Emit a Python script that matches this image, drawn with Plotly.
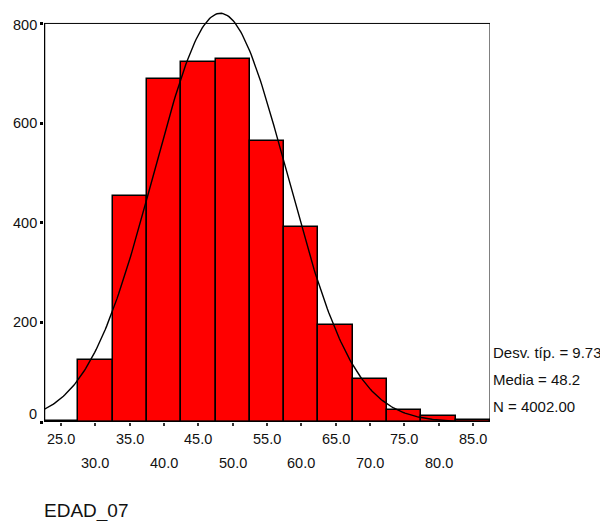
import numpy as np
import plotly.graph_objects as go

# EDAD_07 histogram (bin width 5), SPSS style
bin_centers = [25, 30, 35, 40, 45, 50, 55, 60, 65, 70, 75, 80, 85]
counts = [2, 125, 453, 689, 723, 729, 565, 392, 194, 86, 25, 13, 5]
bin_width = 5

x_tick_vals = [25, 30, 35, 40, 45, 50, 55, 60, 65, 70, 75, 80, 85]
x_tick_text = ["25.0", "30.0", "35.0", "40.0", "45.0", "50.0", "55.0",
               "60.0", "65.0", "70.0", "75.0", "80.0", "85.0"]
y_tick_vals = [0, 200, 400, 600, 800]
y_tick_text = ["0", "200", "400", "600", "800"]

std_dev = 9.73
mean = 48.2
n_total = 4002
stats_lines = ["Desv. típ. = 9.73", "Media = 48.2", "N = 4002.00"]
var_name = "EDAD_07"

FONT = "Liberation Sans, Arial, sans-serif"
x_lo, x_hi = 22.5, 87.5

# normal curve overlay from the reported statistics
xs = np.linspace(x_lo, x_hi, 300)
ys = n_total * bin_width / (std_dev * np.sqrt(2 * np.pi)) * np.exp(-0.5 * ((xs - mean) / std_dev) ** 2)

fig = go.Figure()
fig.add_trace(go.Bar(
    x=bin_centers, y=counts, width=bin_width,
    marker=dict(color="#ff0000", line=dict(color="black", width=1.5)),
))
fig.add_trace(go.Scatter(x=xs, y=ys, mode="lines",
                         line=dict(color="black", width=1.4)))

# frame: thin top/right, heavier left/bottom
fig.add_shape(type="rect", x0=x_lo, x1=x_hi, y0=0, y1=800,
              line=dict(color="black", width=1), layer="above")
fig.add_shape(type="line", x0=x_lo, x1=x_lo, y0=0, y1=800,
              line=dict(color="black", width=2.5), layer="above")
fig.add_shape(type="line", x0=x_lo, x1=x_hi, y0=0, y1=0,
              line=dict(color="black", width=2.5), layer="above")

tick_font = dict(family=FONT, size=14.5, color="#111")
for i, (v, t) in enumerate(zip(x_tick_vals, x_tick_text)):
    fig.add_annotation(x=v, y=0, yref="paper", text=t, showarrow=False,
                       xanchor="center", yanchor="middle",
                       yshift=-17 if i % 2 == 0 else -41, font=tick_font)
for v, t in zip(y_tick_vals, y_tick_text):
    shift = 8 if v == 0 else (-2 if v == 800 else 0)
    fig.add_annotation(x=0, xref="paper", y=v, text=t, showarrow=False,
                       xanchor="right", yanchor="middle", xshift=-5,
                       yshift=shift, font=tick_font)

for i, s in enumerate(stats_lines):
    fig.add_annotation(x=1, xref="paper", y=0, yref="paper", text=s,
                       showarrow=False, xanchor="left", yanchor="middle",
                       xshift=1, yshift=70 - 27 * i,
                       font=dict(family=FONT, size=15, color="#111"))

fig.add_annotation(x=0, xref="paper", y=0, yref="paper", text=var_name,
                   showarrow=False, xanchor="left", yanchor="middle",
                   xshift=-2, yshift=-89,
                   font=dict(family=FONT, size=19, color="#111"))

fig.update_xaxes(range=[x_lo, x_hi], tickvals=x_tick_vals, showticklabels=False,
                 ticks="outside", ticklen=3, tickwidth=2, tickcolor="#333",
                 showgrid=False, zeroline=False, showline=False)
fig.update_yaxes(range=[0, 831], tickvals=y_tick_vals, showticklabels=False,
                 ticks="outside", ticklen=3, tickwidth=2.5, tickcolor="black",
                 showgrid=False, zeroline=False, showline=False)
# page body has an 8px margin, so the figure is 8px smaller than the window
fig.update_layout(
    width=600, height=513,
    margin=dict(l=36, r=118, t=0, b=99),
    plot_bgcolor="white", paper_bgcolor="white",
    showlegend=False, bargap=0,
)
fig.write_html("out.html")
